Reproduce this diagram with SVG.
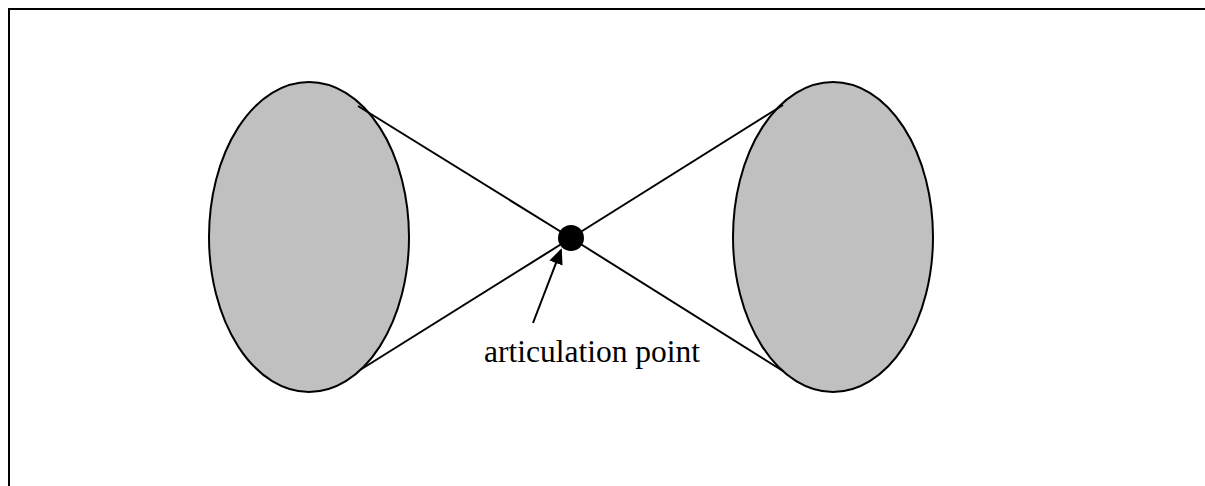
<svg xmlns="http://www.w3.org/2000/svg" width="1205" height="486" viewBox="0 0 1205 486">
<defs>
<style>
.blob{fill:#c0c0c0;stroke:#000;stroke-width:2}
.edge{stroke:#000;stroke-width:2;fill:none}
.lbl{font-family:"Liberation Serif","Times New Roman",serif;font-size:31.5px;fill:#000}
</style>
<marker id="ah" markerWidth="16" markerHeight="14" refX="14" refY="7" orient="auto" markerUnits="userSpaceOnUse">
<path d="M0,0 L16,7 L0,14 z" fill="#000"/>
</marker>
</defs>
<rect width="1205" height="486" fill="#fff"/>
<path d="M9,486 L9,9 L1205,9" fill="none" stroke="#000" stroke-width="2"/>
<g id="left-component"><ellipse class="blob" cx="309" cy="237" rx="100" ry="155"/></g>
<g id="right-component"><ellipse class="blob" cx="833" cy="237" rx="100" ry="155"/></g>
<g id="connectors">
<line class="edge" x1="358" y1="106" x2="571" y2="238"/>
<line class="edge" x1="360" y1="370" x2="571" y2="238"/>
<line class="edge" x1="571" y1="238" x2="783" y2="105"/>
<line class="edge" x1="571" y1="238" x2="783" y2="371"/>
<line class="edge" x1="533" y1="323" x2="561" y2="250" marker-end="url(#ah)"/>
</g>
<g id="articulation-point"><circle cx="571" cy="238" r="13" fill="#000"/></g>
<g id="label"><text class="lbl" x="484" y="362">articulation point</text></g>
</svg>
